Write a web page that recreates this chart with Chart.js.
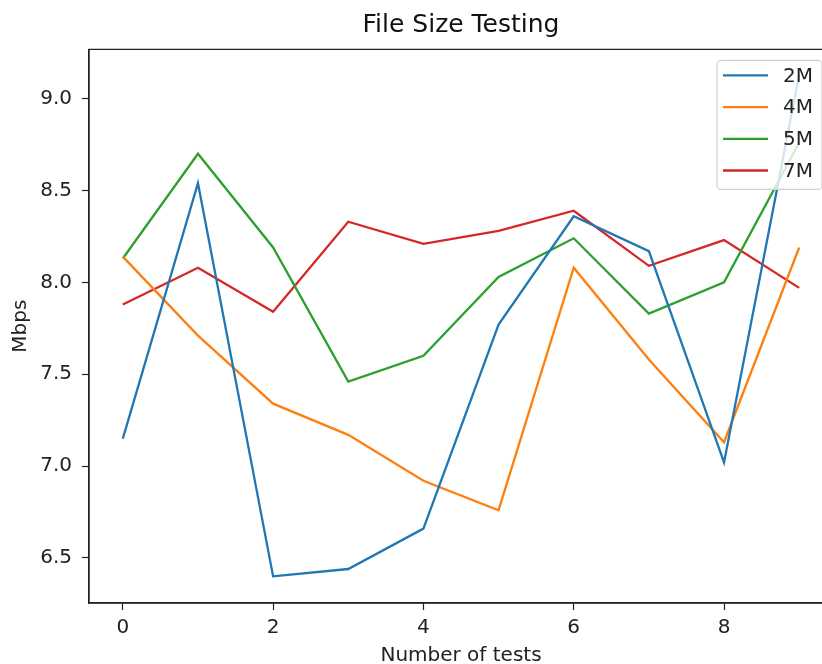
<!DOCTYPE html>
<html>
<head>
<meta charset="utf-8">
<title>File Size Testing</title>
<script src="https://cdn.jsdelivr.net/npm/chart.js@4/dist/chart.umd.min.js"></script>
<style>
  html, body { margin: 0; padding: 0; background: #fff; overflow: hidden; width: 822px; height: 664px; }
  #chart { position: absolute; left: 0; top: 0; }
</style>
</head>
<body>
<canvas id="chart" width="840" height="664"></canvas>
<script>
// data
const testNumbers = [0, 1, 2, 3, 4, 5, 6, 7, 8, 9];
const size2M = [7.15, 8.54, 6.40, 6.44, 6.66, 7.77, 8.36, 8.17, 7.02, 9.13];
const size4M = [8.14, 7.71, 7.34, 7.17, 6.92, 6.76, 8.08, 7.58, 7.13, 8.19];
const size5M = [8.13, 8.70, 8.19, 7.46, 7.60, 8.03, 8.24, 7.83, 8.00, 8.76];
const size7M = [7.88, 8.08, 7.84, 8.33, 8.21, 8.28, 8.39, 8.09, 8.23, 7.97];
const seriesNames = ['2M', '4M', '5M', '7M'];
const xTicks = [0, 2, 4, 6, 8];
const yTicks = [6.5, 7.0, 7.5, 8.0, 8.5, 9.0];
const chartTitle = 'File Size Testing';

const colors = ['#1f77b4', '#ff7f0e', '#2ca02c', '#d62728'];
const fontFamily = '"DejaVu Sans", sans-serif';

function toPoints(values) {
    return testNumbers.map((x, i) => ({ x: x, y: values[i] }));
}

const datasets = [size2M, size4M, size5M, size7M].map((vals, i) => ({
    label: seriesNames[i],
    data: toPoints(vals),
    borderColor: colors[i],
    backgroundColor: colors[i],
    borderWidth: 2.3,
    pointRadius: 0,
    tension: 0,
    fill: false
}));

// spines on all four sides + title centred over the axes
const framePlugin = {
    id: 'frame',
    afterDatasetsDraw(chart) {
        const { ctx, chartArea: a } = chart;
        ctx.save();
        ctx.strokeStyle = '#222';
        ctx.lineWidth = 1.3;
        ctx.beginPath();
        ctx.moveTo(a.left, a.bottom);
        ctx.lineTo(a.left, a.top);
        ctx.lineTo(a.right, a.top);
        ctx.lineTo(a.right, a.bottom);
        ctx.lineTo(a.left, a.bottom);
        ctx.stroke();
        ctx.fillStyle = '#111';
        ctx.font = '25px ' + fontFamily;
        ctx.textAlign = 'center';
        ctx.textBaseline = 'middle';
        ctx.fillText(chartTitle, (a.left + a.right) / 2, 25);
        ctx.restore();
    }
};

// legend box in the upper right corner, inside the axes
const legendPlugin = {
    id: 'boxLegend',
    afterDraw(chart) {
        const { ctx, chartArea: a } = chart;
        const boxRight = a.right - 11;
        const boxLeft = boxRight - 105;
        const boxTop = a.top + 11;
        const rowH = 31.7;
        const boxH = 129;
        ctx.save();
        ctx.beginPath();
        ctx.roundRect(boxLeft, boxTop, boxRight - boxLeft, boxH, 4);
        ctx.fillStyle = 'rgba(255,255,255,0.8)';
        ctx.fill();
        ctx.strokeStyle = '#d0d0d0';
        ctx.lineWidth = 1.2;
        ctx.stroke();
        ctx.font = '20px ' + fontFamily;
        ctx.textBaseline = 'middle';
        ctx.textAlign = 'left';
        chart.data.datasets.forEach((ds, i) => {
            const y = boxTop + 15 + i * rowH;
            ctx.strokeStyle = ds.borderColor;
            ctx.lineWidth = 2.3;
            ctx.beginPath();
            ctx.moveTo(boxLeft + 6, y);
            ctx.lineTo(boxLeft + 51, y);
            ctx.stroke();
            ctx.fillStyle = '#222';
            ctx.fillText(ds.label, boxLeft + 66, y + 1);
        });
        ctx.restore();
    }
};

const ctx = document.getElementById('chart').getContext('2d');
new Chart(ctx, {
    type: 'line',
    data: { datasets: datasets },
    options: {
        responsive: false,
        animation: false,
        devicePixelRatio: 1,
        layout: { padding: { left: 0, right: 7, top: 49.4, bottom: 0 } },
        plugins: {
            legend: { display: false },
            tooltip: { enabled: false },
            title: { display: false }
        },
        scales: {
            x: {
                type: 'linear',
                min: -0.45,
                max: 9.45,
                afterBuildTicks: (scale) => { scale.ticks = xTicks.map(v => ({ value: v })); },
                afterFit: (scale) => { scale.height = 61; },
                grid: { drawOnChartArea: false, drawTicks: true, tickLength: 7, color: '#222', tickWidth: 1.2 },
                border: { display: true, color: '#222', width: 1.3 },
                ticks: {
                    color: '#222',
                    padding: 6,
                    maxRotation: 0,
                    font: { family: fontFamily, size: 20 },
                    callback: (v) => String(v)
                },
                title: {
                    display: true,
                    text: 'Number of tests',
                    color: '#222',
                    font: { family: fontFamily, size: 20, lineHeight: 1 },
                    padding: { top: 0, bottom: -2 }
                }
            },
            y: {
                type: 'linear',
                min: 6.255,
                max: 9.268,
                afterBuildTicks: (scale) => { scale.ticks = yTicks.map(v => ({ value: v })); },
                afterFit: (scale) => { scale.width = 89; },
                grid: { drawOnChartArea: false, drawTicks: true, tickLength: 7, color: '#222', tickWidth: 1.2 },
                border: { display: true, color: '#222', width: 1.3 },
                ticks: {
                    color: '#222',
                    padding: 10,
                    font: { family: fontFamily, size: 20 },
                    callback: (v) => v.toFixed(1)
                },
                title: {
                    display: true,
                    text: 'Mbps',
                    color: '#222',
                    font: { family: fontFamily, size: 20, lineHeight: 1 },
                    padding: { top: 11, bottom: 0 }
                }
            }
        }
    },
    plugins: [framePlugin, legendPlugin]
});
</script>
</body>
</html>
